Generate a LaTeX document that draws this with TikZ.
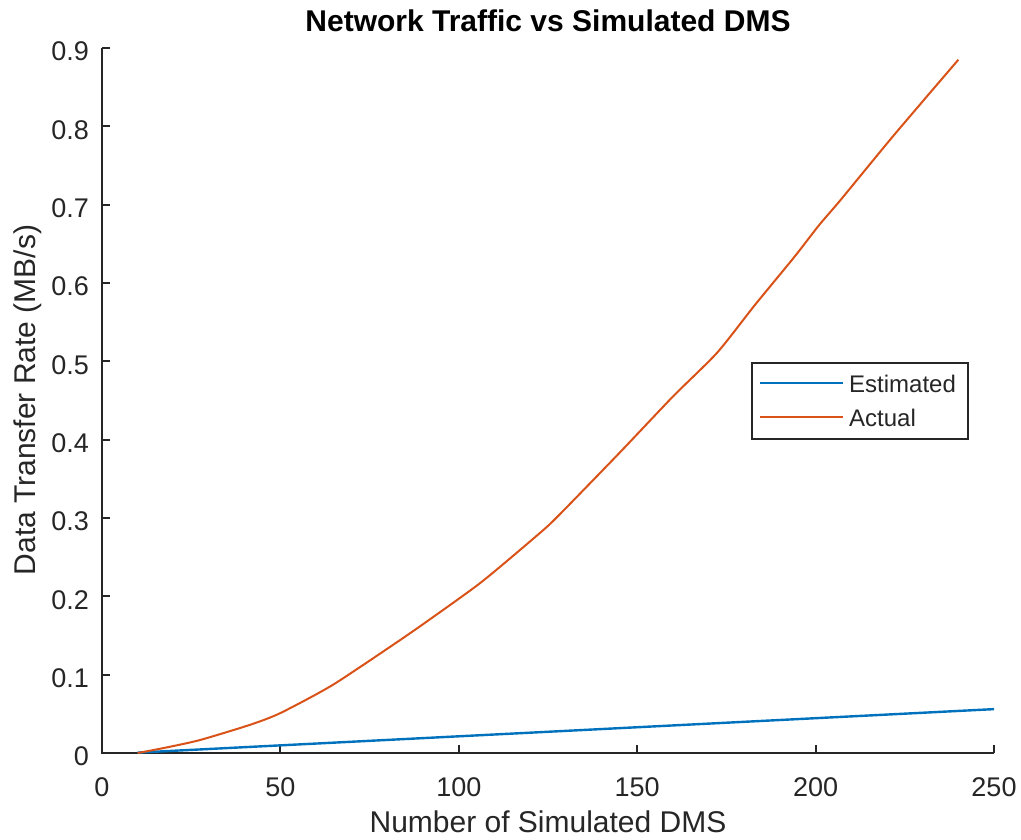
\documentclass[tikz,border=0pt]{standalone}
\usepackage{tikz}
\usepackage{xcolor}
\usepackage{fontspec}
\setmainfont{Liberation Sans}

\tikzset{
  ytick/.style={anchor=east, xshift=-13pt, yshift=-3.5pt, inner sep=0pt, text=axgray, font=\fontsize{27}{32}\selectfont},
  xtick/.style={anchor=north, yshift=-24pt, inner sep=0pt, text=axgray, font=\fontsize{27}{32}\selectfont},
  axlabel/.style={anchor=base, inner sep=0pt, text=axgray, font=\fontsize{30}{36}\selectfont},
  legtext/.style={anchor=base west, inner sep=0pt, text=axgray, font=\fontsize{24}{29}\selectfont}
}

\begin{document}
\begin{tikzpicture}[x=1pt, y=1pt]
\definecolor{axgray}{rgb}{0.15, 0.15, 0.15}
\definecolor{mblue}{rgb}{0.0, 0.447, 0.741}
\definecolor{morange}{rgb}{0.85, 0.325, 0.098}

\useasboundingbox [fill=white] (0,0) rectangle (1021,839);

\node [anchor=base, inner sep=0pt, font=\fontsize{30}{36}\selectfont\bfseries] (title) at (548,807) {Network Traffic vs Simulated DMS};
\node [axlabel] (xlabel) at (548,7) {Number of Simulated DMS};
\node [axlabel, rotate=90] (ylabel) at (35,439) {Data Transfer Rate (MB/s)};

\begin{scope}[shift={(102,86)}, x=3.568pt, y=783.33pt]
\draw [line width=2pt, axgray] (0,0.9) -- (0,0) -- (250,0);

\draw [line width=2pt, axgray] (0,0.1) -- ++(8pt,0);
\draw [line width=2pt, axgray] (0,0.2) -- ++(8pt,0);
\draw [line width=2pt, axgray] (0,0.3) -- ++(8pt,0);
\draw [line width=2pt, axgray] (0,0.4) -- ++(8pt,0);
\draw [line width=2pt, axgray] (0,0.5) -- ++(8pt,0);
\draw [line width=2pt, axgray] (0,0.6) -- ++(8pt,0);
\draw [line width=2pt, axgray] (0,0.7) -- ++(8pt,0);
\draw [line width=2pt, axgray] (0,0.8) -- ++(8pt,0);
\draw [line width=2pt, axgray] (0,0.9) -- ++(8pt,0);
\draw [line width=2pt, axgray] (50,0) -- ++(0,8pt);
\draw [line width=2pt, axgray] (100,0) -- ++(0,8pt);
\draw [line width=2pt, axgray] (150,0) -- ++(0,8pt);
\draw [line width=2pt, axgray] (200,0) -- ++(0,8pt);
\draw [line width=2pt, axgray] (250,0) -- ++(0,8pt);

\node [ytick] (y0) at (0,0) {0};
\node [ytick] (y1) at (0,0.1) {0.1};
\node [ytick] (y2) at (0,0.2) {0.2};
\node [ytick] (y3) at (0,0.3) {0.3};
\node [ytick] (y4) at (0,0.4) {0.4};
\node [ytick] (y5) at (0,0.5) {0.5};
\node [ytick] (y6) at (0,0.6) {0.6};
\node [ytick] (y7) at (0,0.7) {0.7};
\node [ytick] (y8) at (0,0.8) {0.8};
\node [ytick] (y9) at (0,0.9) {0.9};
\node [xtick] (x0) at (0,0) {0};
\node [xtick] (x50) at (50,0) {50};
\node [xtick] (x100) at (100,0) {100};
\node [xtick] (x150) at (150,0) {150};
\node [xtick] (x200) at (200,0) {200};
\node [xtick] (x250) at (250,0) {250};

\draw [line width=2.4pt, mblue] (10,0.0005) -- (250,0.056);
\draw [line width=2pt, morange, line join=round] plot [smooth, tension=0.4] coordinates {(10,0) (18,0.007) (27.5,0.0166) (41.5,0.036) (50,0.051) (64.7,0.087) (83.5,0.144) (88.6,0.160) (106,0.217) (122,0.278) (127.5,0.301) (145,0.383) (160,0.455) (172.4,0.511) (183,0.572) (194,0.633) (201,0.674) (207,0.706) (222,0.789) (240,0.885)};
\end{scope}

\draw [line width=2pt, axgray, fill=white] (752,400) rectangle (968,476);
\draw [line width=2.4pt, mblue] (760,456) -- (843,456);
\draw [line width=2pt, morange] (760,422) -- (843,422);
\node [legtext] (lest) at (849,446) {Estimated};
\node [legtext] (lact) at (849,412) {Actual};
\end{tikzpicture}
\end{document}
